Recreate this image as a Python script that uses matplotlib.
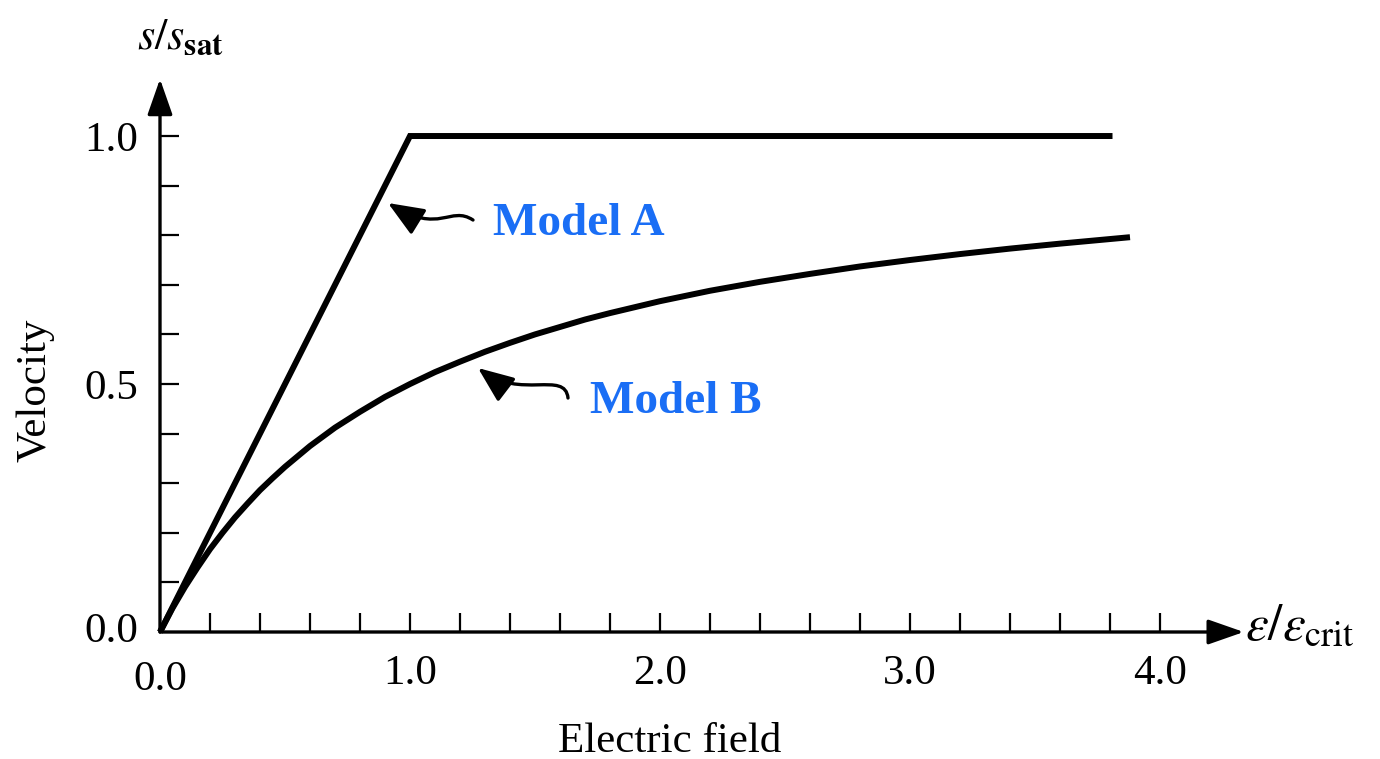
import matplotlib
matplotlib.use("Agg")
import matplotlib.pyplot as plt
from matplotlib.patches import FancyArrowPatch
from matplotlib.path import Path

plt.rcParams['font.family'] = ['Liberation Serif', 'DejaVu Serif']
plt.rcParams['mathtext.fontset'] = 'stix'

# Model A: linear up to the critical field, then saturated
field_a = [0.0, 1.0, 3.81]
velocity_a = [0.0, 1.0, 1.0]

# Model B: smooth approach to saturation
field_b = [0.0, 0.05, 0.1, 0.15, 0.2, 0.25, 0.3, 0.35, 0.4, 0.45, 0.5, 0.6,
           0.7, 0.8, 0.9, 1.0, 1.1, 1.2, 1.3, 1.4, 1.5, 1.6, 1.7, 1.8, 1.9,
           2.0, 2.2, 2.4, 2.6, 2.8, 3.0, 3.2, 3.4, 3.6, 3.88]
velocity_b = [0.0, 0.048, 0.091, 0.13, 0.167, 0.2, 0.231, 0.259, 0.286,
              0.31, 0.333, 0.375, 0.412, 0.444, 0.474, 0.5, 0.524, 0.545,
              0.565, 0.583, 0.6, 0.615, 0.63, 0.643, 0.655, 0.667, 0.688,
              0.706, 0.722, 0.737, 0.75, 0.762, 0.773, 0.783, 0.796]

x_ticks = [0.2 * i for i in range(1, 21)]
x_labels = ['1.0' if abs(t - 1) < 1e-6 else '2.0' if abs(t - 2) < 1e-6 else
            '3.0' if abs(t - 3) < 1e-6 else '4.0' if abs(t - 4) < 1e-6 else ''
            for t in x_ticks]
y_ticks = [0.1 * i for i in range(1, 11)]
y_labels = ['0.5' if abs(t - 0.5) < 1e-6 else '1.0' if abs(t - 1) < 1e-6 else ''
            for t in y_ticks]

W, H = 1380, 759
fig = plt.figure(figsize=(W / 100, H / 100), dpi=100)
x0, y0 = 160, 632
ax = fig.add_axes([x0 / W, (H - y0) / H, 1100 / W, 555.5 / H])
ax.set_xlim(0, 4.4)
ax.set_ylim(0, 1.12)
for s in ax.spines.values():
    s.set_visible(False)

ax.plot(field_a, velocity_a, color='black', lw=4.3, solid_capstyle='butt',
        solid_joinstyle='miter', clip_on=False)
ax.plot(field_b, velocity_b, color='black', lw=4.3, solid_capstyle='butt',
        solid_joinstyle='round', clip_on=False)

# axes with arrow heads
head = '-|>,head_length=1.0,head_width=0.35'
ax.annotate('', xy=(4.335, 0), xytext=(0, 0),
            arrowprops=dict(arrowstyle=head, lw=2.4, color='black',
                            shrinkA=0, shrinkB=0, mutation_scale=22),
            annotation_clip=False)
ax.annotate('', xy=(0, 1.115), xytext=(0, 0),
            arrowprops=dict(arrowstyle=head, lw=2.4, color='black',
                            shrinkA=0, shrinkB=0, mutation_scale=22),
            annotation_clip=False)

ax.set_xticks(x_ticks)
ax.set_xticklabels(x_labels)
ax.set_yticks(y_ticks)
ax.set_yticklabels(y_labels)
ax.tick_params(direction='in', length=14, width=1.6, labelsize=31)
ax.tick_params(axis='x', pad=16)
ax.tick_params(axis='y', pad=16)

# origin labels
ax.text(0, -0.057, '0.0', ha='center', va='top', fontsize=31)
ax.text(-0.085, 0, '0.0', ha='right', va='center', fontsize=31)

fig.text(35 / W, 1 - 390 / H, 'Velocity', rotation=90, ha='center',
         va='center', fontsize=31)
fig.text(670 / W, 1 - 742 / H, 'Electric field', ha='center', va='center',
         fontsize=31)
fig.text(180 / W, 1 - 38 / H, r'$s/s_{\mathbf{sat}}$', ha='center',
         va='center', fontsize=32)
fig.text(1245 / W, 1 - 628 / H, r'$\varepsilon/\varepsilon_{\mathrm{crit}}$',
         ha='left', va='center', fontsize=37)


def px(p):
    return ((p[0] - x0) / 250.0, (y0 - p[1]) / 496.0)


blue = '#1a6ef5'
ax.text(*px((493, 224)), 'Model A', color=blue, fontsize=34,
        fontweight='bold', ha='left', va='center')
ax.text(*px((590, 402)), 'Model B', color=blue, fontsize=34,
        fontweight='bold', ha='left', va='center')

# wavy pointer arrows
for pts in ([(473, 220), (450, 205), (440, 235), (388, 203)],
            [(568, 398), (565, 370), (520, 400), (478, 368)]):
    verts = [px(p) for p in pts]
    path = Path(verts, [Path.MOVETO, Path.CURVE4, Path.CURVE4, Path.CURVE4])
    arr = FancyArrowPatch(path=path,
                          arrowstyle='-|>,head_length=1.1,head_width=0.45',
                          mutation_scale=20, lw=2.4, color='black',
                          transform=ax.transData, clip_on=False)
    ax.add_patch(arr)

fig.savefig('out.png', dpi=100)
